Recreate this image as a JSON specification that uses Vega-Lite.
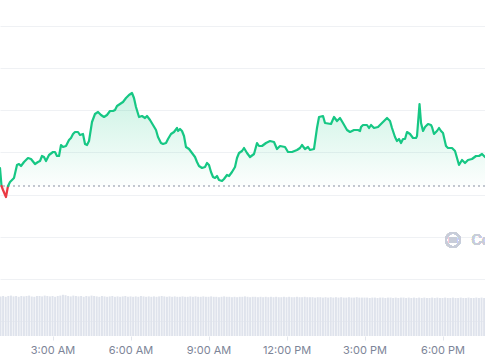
{
  "$schema": "https://vega.github.io/schema/vega-lite/v6.json",
  "width": 485,
  "height": 336,
  "padding": {"left": 0, "top": 0, "right": 0, "bottom": 24},
  "autosize": {"type": "none"},
  "background": "#ffffff",
  "config": {"view": {"stroke": null}, "font": "Inter"},
  "datasets": {
    "price": [
      {"m":58.8,"p":1.168,"s":"a"},{"m":62.3,"p":1.150,"s":"a"},
      {"m":62.3,"p":1.150,"s":"r"},{"m":65.7,"p":1.146,"s":"r"},{"m":72.6,"p":1.139,"s":"r"},{"m":77.3,"p":1.150,"s":"r"},
      {"m":77.3,"p":1.150,"s":"b"},{"m":81.9,"p":1.154,"s":"b"},{"m":91.1,"p":1.158,"s":"b"},{"m":98.0,"p":1.171,"s":"b"},
      {"m":102.6,"p":1.172,"s":"b"},{"m":107.3,"p":1.170,"s":"b"},{"m":114.2,"p":1.174,"s":"b"},{"m":123.4,"p":1.178,"s":"b"},
      {"m":130.3,"p":1.177,"s":"b"},{"m":139.6,"p":1.172,"s":"b"},{"m":146.5,"p":1.174,"s":"b"},{"m":151.1,"p":1.175,"s":"b"},
      {"m":155.7,"p":1.180,"s":"b"},{"m":160.3,"p":1.179,"s":"b"},{"m":165.0,"p":1.175,"s":"b"},{"m":171.9,"p":1.181,"s":"b"},
      {"m":181.1,"p":1.184,"s":"b"},{"m":185.7,"p":1.184,"s":"b"},{"m":190.3,"p":1.180,"s":"b"},{"m":195.0,"p":1.180,"s":"b"},
      {"m":199.6,"p":1.191,"s":"b"},{"m":204.2,"p":1.189,"s":"b"},{"m":211.1,"p":1.190,"s":"b"},{"m":218.0,"p":1.196,"s":"b"},
      {"m":222.6,"p":1.198,"s":"b"},{"m":227.3,"p":1.202,"s":"b"},{"m":231.9,"p":1.204,"s":"b"},{"m":238.8,"p":1.204,"s":"b"},
      {"m":243.4,"p":1.201,"s":"b"},{"m":250.3,"p":1.202,"s":"b"},{"m":255.0,"p":1.192,"s":"b"},{"m":259.6,"p":1.191,"s":"b"},
      {"m":264.2,"p":1.195,"s":"b"},{"m":271.1,"p":1.214,"s":"b"},{"m":278.0,"p":1.222,"s":"b"},{"m":285.0,"p":1.224,"s":"b"},
      {"m":291.9,"p":1.221,"s":"b"},{"m":298.8,"p":1.219,"s":"b"},{"m":305.7,"p":1.221,"s":"b"},{"m":312.6,"p":1.225,"s":"b"},
      {"m":319.6,"p":1.225,"s":"b"},{"m":324.2,"p":1.226,"s":"b"},{"m":328.8,"p":1.230,"s":"b"},{"m":335.7,"p":1.232,"s":"b"},
      {"m":342.6,"p":1.234,"s":"b"},{"m":349.6,"p":1.238,"s":"b"},{"m":356.5,"p":1.241,"s":"b"},{"m":363.4,"p":1.243,"s":"b"},
      {"m":368.0,"p":1.238,"s":"b"},{"m":372.6,"p":1.229,"s":"b"},{"m":379.6,"p":1.219,"s":"b"},{"m":386.5,"p":1.220,"s":"b"},
      {"m":393.4,"p":1.218,"s":"b"},{"m":398.0,"p":1.220,"s":"b"},{"m":405.0,"p":1.216,"s":"b"},{"m":411.9,"p":1.211,"s":"b"},
      {"m":418.8,"p":1.206,"s":"b"},{"m":423.4,"p":1.199,"s":"b"},{"m":430.3,"p":1.193,"s":"b"},{"m":435.0,"p":1.192,"s":"b"},
      {"m":441.9,"p":1.193,"s":"b"},{"m":446.5,"p":1.197,"s":"b"},{"m":453.4,"p":1.202,"s":"b"},{"m":460.3,"p":1.204,"s":"b"},
      {"m":467.3,"p":1.208,"s":"b"},{"m":469.6,"p":1.205,"s":"b"},{"m":474.2,"p":1.207,"s":"b"},{"m":478.8,"p":1.205,"s":"b"},
      {"m":483.4,"p":1.200,"s":"b"},{"m":488.0,"p":1.189,"s":"b"},{"m":495.0,"p":1.187,"s":"b"},{"m":501.9,"p":1.183,"s":"b"},
      {"m":508.8,"p":1.179,"s":"b"},{"m":513.4,"p":1.174,"s":"b"},{"m":518.0,"p":1.170,"s":"b"},{"m":525.0,"p":1.168,"s":"b"},
      {"m":531.9,"p":1.169,"s":"b"},{"m":536.5,"p":1.173,"s":"b"},{"m":541.1,"p":1.171,"s":"b"},{"m":545.7,"p":1.164,"s":"b"},
      {"m":550.4,"p":1.159,"s":"b"},{"m":555.0,"p":1.158,"s":"b"},{"m":559.6,"p":1.160,"s":"b"},{"m":564.2,"p":1.156,"s":"b"},
      {"m":571.1,"p":1.155,"s":"b"},{"m":575.7,"p":1.157,"s":"b"},{"m":582.6,"p":1.161,"s":"b"},{"m":587.3,"p":1.160,"s":"b"},
      {"m":594.2,"p":1.164,"s":"b"},{"m":601.1,"p":1.169,"s":"b"},{"m":605.7,"p":1.178,"s":"b"},{"m":610.4,"p":1.183,"s":"b"},
      {"m":617.3,"p":1.185,"s":"b"},{"m":621.9,"p":1.188,"s":"b"},{"m":628.8,"p":1.183,"s":"b"},{"m":635.7,"p":1.179,"s":"b"},
      {"m":645.0,"p":1.182,"s":"b"},{"m":651.9,"p":1.193,"s":"b"},{"m":656.5,"p":1.190,"s":"b"},{"m":663.4,"p":1.190,"s":"b"},
      {"m":672.6,"p":1.193,"s":"b"},{"m":681.9,"p":1.195,"s":"b"},{"m":691.1,"p":1.194,"s":"b"},{"m":698.0,"p":1.187,"s":"b"},
      {"m":705.0,"p":1.190,"s":"b"},{"m":716.5,"p":1.189,"s":"b"},{"m":723.4,"p":1.184,"s":"b"},{"m":732.6,"p":1.184,"s":"b"},
      {"m":744.2,"p":1.186,"s":"b"},{"m":751.1,"p":1.188,"s":"b"},{"m":755.7,"p":1.191,"s":"b"},{"m":762.6,"p":1.187,"s":"b"},
      {"m":769.6,"p":1.189,"s":"b"},{"m":774.2,"p":1.186,"s":"b"},{"m":783.4,"p":1.187,"s":"b"},{"m":790.3,"p":1.208,"s":"b"},
      {"m":795.0,"p":1.219,"s":"b"},{"m":804.2,"p":1.220,"s":"b"},{"m":808.8,"p":1.213,"s":"b"},{"m":822.6,"p":1.212,"s":"b"},
      {"m":829.6,"p":1.219,"s":"b"},{"m":836.5,"p":1.215,"s":"b"},{"m":843.4,"p":1.218,"s":"b"},{"m":850.3,"p":1.213,"s":"b"},
      {"m":859.6,"p":1.206,"s":"b"},{"m":866.5,"p":1.204,"s":"b"},{"m":875.7,"p":1.206,"s":"b"},{"m":885.0,"p":1.206,"s":"b"},
      {"m":889.6,"p":1.205,"s":"b"},{"m":891.9,"p":1.209,"s":"b"},{"m":896.5,"p":1.211,"s":"b"},{"m":905.7,"p":1.211,"s":"b"},
      {"m":910.4,"p":1.208,"s":"b"},{"m":915.0,"p":1.211,"s":"b"},{"m":921.9,"p":1.208,"s":"b"},{"m":931.1,"p":1.209,"s":"b"},
      {"m":940.3,"p":1.213,"s":"b"},{"m":947.3,"p":1.216,"s":"b"},{"m":951.9,"p":1.218,"s":"b"},{"m":958.8,"p":1.215,"s":"b"},
      {"m":963.4,"p":1.208,"s":"b"},{"m":970.3,"p":1.199,"s":"b"},{"m":974.9,"p":1.195,"s":"b"},{"m":979.6,"p":1.197,"s":"b"},
      {"m":984.2,"p":1.193,"s":"b"},{"m":988.8,"p":1.197,"s":"b"},{"m":993.4,"p":1.197,"s":"b"},{"m":998.0,"p":1.204,"s":"b"},
      {"m":1005.0,"p":1.202,"s":"b"},{"m":1011.9,"p":1.198,"s":"b"},{"m":1018.8,"p":1.198,"s":"b"},{"m":1021.1,"p":1.200,"s":"b"},
      {"m":1026.9,"p":1.232,"s":"b"},{"m":1030.4,"p":1.213,"s":"b"},{"m":1035.0,"p":1.205,"s":"b"},{"m":1039.6,"p":1.209,"s":"b"},
      {"m":1046.5,"p":1.212,"s":"b"},{"m":1053.4,"p":1.211,"s":"b"},{"m":1055.7,"p":1.209,"s":"b"},{"m":1060.3,"p":1.202,"s":"b"},
      {"m":1067.2,"p":1.205,"s":"b"},{"m":1071.9,"p":1.208,"s":"b"},{"m":1076.5,"p":1.205,"s":"b"},{"m":1081.1,"p":1.203,"s":"b"},
      {"m":1088.0,"p":1.190,"s":"b"},{"m":1092.6,"p":1.188,"s":"b"},{"m":1101.9,"p":1.188,"s":"b"},{"m":1108.8,"p":1.185,"s":"b"},
      {"m":1118.0,"p":1.171,"s":"b"},{"m":1124.9,"p":1.176,"s":"b"},{"m":1131.9,"p":1.173,"s":"b"},{"m":1138.8,"p":1.176,"s":"b"},
      {"m":1148.0,"p":1.177,"s":"b"},{"m":1157.3,"p":1.180,"s":"b"},{"m":1164.2,"p":1.180,"s":"b"},{"m":1171.1,"p":1.182,"s":"b"},
      {"m":1178.0,"p":1.179,"s":"b"}
    ],
    "vol": [
      {"m":60,"v":99},{"m":66,"v":100},{"m":72,"v":98},{"m":78,"v":100},{"m":84,"v":101},{"m":90,"v":99},{"m":96,"v":100},{"m":102,"v":98},{"m":108,"v":100},{"m":114,"v":99},
      {"m":120,"v":100},{"m":126,"v":101},{"m":132,"v":99},{"m":138,"v":98},{"m":144,"v":100},{"m":150,"v":100},{"m":156,"v":99},{"m":162,"v":101},{"m":168,"v":100},{"m":174,"v":99},
      {"m":180,"v":100},{"m":186,"v":98},{"m":192,"v":100},{"m":198,"v":101},{"m":204,"v":103},{"m":210,"v":102},{"m":216,"v":100},{"m":222,"v":99},{"m":228,"v":101},{"m":234,"v":100},
      {"m":240,"v":99},{"m":246,"v":100},{"m":252,"v":98},{"m":258,"v":100},{"m":264,"v":99},{"m":270,"v":101},{"m":276,"v":100},{"m":282,"v":99},{"m":288,"v":98},{"m":294,"v":100},
      {"m":300,"v":99},{"m":306,"v":98},{"m":312,"v":99},{"m":318,"v":100},{"m":324,"v":98},{"m":330,"v":99},{"m":336,"v":98},{"m":342,"v":99},{"m":348,"v":100},{"m":354,"v":98},
      {"m":360,"v":99},{"m":366,"v":98},{"m":372,"v":99},{"m":378,"v":98},{"m":384,"v":100},{"m":390,"v":99},{"m":396,"v":98},{"m":402,"v":99},{"m":408,"v":98},{"m":414,"v":99},
      {"m":420,"v":98},{"m":426,"v":99},{"m":432,"v":100},{"m":438,"v":99},{"m":444,"v":98},{"m":450,"v":99},{"m":456,"v":98},{"m":462,"v":99},{"m":468,"v":98},{"m":474,"v":98},
      {"m":480,"v":99},{"m":486,"v":98},{"m":492,"v":98},{"m":498,"v":99},{"m":504,"v":98},{"m":510,"v":99},{"m":516,"v":98},{"m":522,"v":98},{"m":528,"v":99},{"m":534,"v":98},
      {"m":540,"v":98},{"m":546,"v":99},{"m":552,"v":98},{"m":558,"v":98},{"m":564,"v":97},{"m":570,"v":98},{"m":576,"v":99},{"m":582,"v":98},{"m":588,"v":98},{"m":594,"v":97},
      {"m":600,"v":98},{"m":606,"v":97},{"m":612,"v":98},{"m":618,"v":98},{"m":624,"v":99},{"m":630,"v":98},{"m":636,"v":97},{"m":642,"v":98},{"m":648,"v":98},{"m":654,"v":97},
      {"m":660,"v":98},{"m":666,"v":97},{"m":672,"v":98},{"m":678,"v":97},{"m":684,"v":98},{"m":690,"v":97},{"m":696,"v":98},{"m":702,"v":97},{"m":708,"v":97},{"m":714,"v":98},
      {"m":720,"v":97},{"m":726,"v":98},{"m":732,"v":97},{"m":738,"v":97},{"m":744,"v":98},{"m":750,"v":97},{"m":756,"v":97},{"m":762,"v":98},{"m":768,"v":97},{"m":774,"v":97},
      {"m":780,"v":97},{"m":786,"v":96},{"m":792,"v":97},{"m":798,"v":97},{"m":804,"v":96},{"m":810,"v":97},{"m":816,"v":96},{"m":822,"v":97},{"m":828,"v":96},{"m":834,"v":97},
      {"m":840,"v":96},{"m":846,"v":97},{"m":852,"v":96},{"m":858,"v":96},{"m":864,"v":97},{"m":870,"v":96},{"m":876,"v":96},{"m":882,"v":97},{"m":888,"v":96},{"m":894,"v":96},
      {"m":900,"v":96},{"m":906,"v":96},{"m":912,"v":95},{"m":918,"v":96},{"m":924,"v":96},{"m":930,"v":95},{"m":936,"v":96},{"m":942,"v":96},{"m":948,"v":95},{"m":954,"v":96},
      {"m":960,"v":96},{"m":966,"v":95},{"m":972,"v":96},{"m":978,"v":95},{"m":984,"v":96},{"m":990,"v":96},{"m":996,"v":95},{"m":1002,"v":96},{"m":1008,"v":95},{"m":1014,"v":96},
      {"m":1020,"v":95},{"m":1026,"v":96},{"m":1032,"v":95},{"m":1038,"v":96},{"m":1044,"v":95},{"m":1050,"v":95},{"m":1056,"v":96},{"m":1062,"v":95},{"m":1068,"v":96},{"m":1074,"v":95},
      {"m":1080,"v":95},{"m":1086,"v":96},{"m":1092,"v":95},{"m":1098,"v":95},{"m":1104,"v":96},{"m":1110,"v":95},{"m":1116,"v":95},{"m":1122,"v":96},{"m":1128,"v":95},{"m":1134,"v":95},
      {"m":1140,"v":96},{"m":1146,"v":95},{"m":1152,"v":95},{"m":1158,"v":96},{"m":1164,"v":95},{"m":1170,"v":96},{"m":1176,"v":95}
    ]
  },
  "layer": [
    {
      "data": {"name": "vol"},
      "mark": {"type": "bar", "size": 2, "color": "#dfe3ec"},
      "encoding": {
        "x": {"field": "m", "type": "quantitative", "scale": {"domain": [58.8, 1178], "nice": false, "zero": false, "padding": 0},
              "axis": {"values": [180, 360, 540, 720, 900, 1080], "labelExpr": "(datum.value/60 > 12 ? datum.value/60 - 12 : datum.value/60) + ':00 ' + (datum.value/60 < 12 ? 'AM' : 'PM')",
                       "domain": false, "grid": false, "ticks": true, "tickSize": 4, "tickColor": "#e3e6ec", "labelPadding": 4,
                       "labelFontSize": 11, "labelColor": "#7d8598", "labelFont": "Inter", "title": null}},
        "y": {"field": "v", "type": "quantitative", "scale": {"domain": [0, 840], "nice": false}, "axis": null}
      }
    },
    {
      "data": {"name": "price"},
      "layer": [
        {
          "mark": {"type": "rule", "strokeDash": [2, 3], "color": "#c3c7d0", "strokeWidth": 1},
          "encoding": {"y": {"datum": 1.15, "type": "quantitative", "scale": {"domain": [1.0, 1.336], "nice": false, "zero": false},
                             "axis": {"values": [1.015, 1.057, 1.099, 1.141, 1.184, 1.226, 1.268, 1.31], "labels": false, "ticks": false, "domain": false, "title": null, "grid": true, "gridColor": "#eff1f4", "gridWidth": 1}}}
        },
        {
          "transform": [{"filter": "datum.s !== 'r'"}],
          "mark": {"type": "area", "fill": {"gradient": "linear", "x1": 0, "y1": 0, "x2": 0, "y2": 1,
                   "stops": [{"offset": 0, "color": "rgba(22,199,132,0.22)"}, {"offset": 1, "color": "rgba(22,199,132,0.01)"}]}},
          "encoding": {
            "x": {"field": "m", "type": "quantitative"},
            "y": {"field": "p", "type": "quantitative"},
            "y2": {"datum": 1.15},
            "detail": {"field": "s"}
          }
        },
        {
          "transform": [{"filter": "datum.s === 'r'"}],
          "mark": {"type": "area", "fill": {"gradient": "linear", "x1": 0, "y1": 1, "x2": 0, "y2": 0,
                   "stops": [{"offset": 0, "color": "rgba(234,57,67,0.18)"}, {"offset": 1, "color": "rgba(234,57,67,0.02)"}]}},
          "encoding": {
            "x": {"field": "m", "type": "quantitative"},
            "y": {"field": "p", "type": "quantitative"},
            "y2": {"datum": 1.15}
          }
        },
        {
          "mark": {"type": "line", "strokeWidth": 2.2, "strokeJoin": "round", "strokeCap": "round"},
          "encoding": {
            "x": {"field": "m", "type": "quantitative"},
            "y": {"field": "p", "type": "quantitative"},
            "color": {"field": "s", "type": "nominal", "scale": {"domain": ["a", "r", "b"], "range": ["#16c784", "#ea3943", "#16c784"]}, "legend": null}
          }
        },
        {
          "mark": {"type": "point", "shape": "circle", "filled": false, "size": 200, "strokeWidth": 1.8, "color": "#c8cdd9", "opacity": 1},
          "encoding": {"x": {"datum": 1104}, "y": {"datum": 1.096}}
        },
        {
          "mark": {"type": "text", "text": "m", "fontSize": 10, "fontWeight": 600, "color": "#c8cdd9", "font": "Inter", "align": "center", "baseline": "middle"},
          "encoding": {"x": {"datum": 1104}, "y": {"datum": 1.096}}
        },
        {
          "mark": {"type": "text", "text": "CoinMarketCap", "fontSize": 14, "color": "#c8cdd9", "font": "Inter", "fontWeight": 400, "align": "left", "baseline": "middle"},
          "encoding": {"x": {"datum": 1147}, "y": {"datum": 1.095}}
        }
      ]
    }
  ],
  "resolve": {"scale": {"y": "independent"}}
}
